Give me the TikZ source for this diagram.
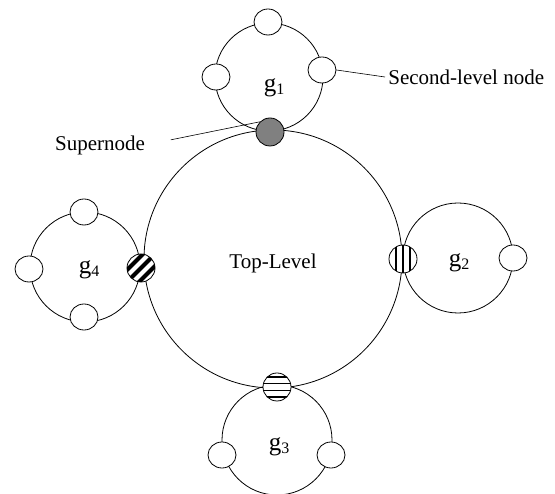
\documentclass[tikz,border=0pt]{standalone}
\usepackage{fontspec}
\setmainfont{Liberation Serif}
\usetikzlibrary{shapes.geometric}
\newcommand{\grp}[1]{g\raisebox{-3bp}{\fontsize{16bp}{18bp}\selectfont #1}}
\begin{document}
\begin{tikzpicture}[x=1bp,y=1bp, line width=0.8bp,
  ring/.style={circle, draw, inner sep=0pt},
  member/.style={ellipse, draw, fill=white, minimum width=28bp, minimum height=26bp, inner sep=0pt},
  super/.style={circle, draw, fill=white, minimum size=28bp, inner sep=0pt},
  superfill/.style={super, fill=black!50},
  vstripes/.style={super, path picture={
      \foreach \d in {-7,0,7}
        \draw[line width=2.6bp] ([xshift=\d bp]path picture bounding box.north) -- ([xshift=\d bp]path picture bounding box.south);}},
  hstripes/.style={super, path picture={
      \foreach \d in {-10,-3.5,3.5,10}
        \draw[line width=1.8bp] ([yshift=\d bp]path picture bounding box.west) -- ([yshift=\d bp]path picture bounding box.east);}},
  dstripes/.style={super, path picture={
      \foreach \d in {-8.5,0,8.5}
        \draw[line width=4bp]
          ([shift={({-14.14-\d*0.7071},{-14.14+\d*0.7071})}]path picture bounding box.center) --
          ([shift={({14.14-\d*0.7071},{14.14+\d*0.7071})}]path picture bounding box.center);}},
  lbl/.style={font=\fontsize{21bp}{25bp}\selectfont, inner sep=0pt},
  glbl/.style={font=\fontsize{25bp}{27bp}\selectfont, inner sep=0pt}]

\useasboundingbox (0,0) rectangle (555,494);

% rings
\node[ring, minimum size=108bp] (g1) at (269,417) {};
\node[ring, minimum size=110bp] (g2) at (458,236) {};
\node[ring, minimum size=110bp] (g3) at (277,54) {};
\node[ring, minimum size=110bp] (g4) at (85,227) {};
\node[ring, minimum size=258bp] (top) at (273,235) {};

% labels
\node[lbl] (toplbl) at (273,231) {Top-Level};
\node[glbl] (g1lbl) at (274,406) {\grp{1}};
\node[glbl] (g2lbl) at (459,231) {\grp{2}};
\node[glbl] (g3lbl) at (279,47) {\grp{3}};
\node[glbl] (g4lbl) at (89,224) {\grp{4}};

% second-level nodes
\node[member] (m1t) at (268,472) {};
\node[member] (m1l) at (216,417) {};
\node[member] (m1r) at (322,424) {};
\node[member] (m2r) at (513,236) {};
\node[member] (m3l) at (222,39) {};
\node[member] (m3r) at (331,39) {};
\node[member] (m4t) at (84,282) {};
\node[member] (m4l) at (29,225) {};
\node[member] (m4b) at (84,177) {};

% supernodes
\node[superfill] (s1) at (270,362) {};
\node[vstripes] (s2) at (403,235) {};
\node[hstripes] (s3) at (277,107) {};
\node[dstripes] (s4) at (141,226) {};

% annotations
\node[lbl, anchor=west] (sl) at (388,417) {Second-level node};
\node[lbl] (sn) at (100,349) {Supernode};
\draw[line width=0.6bp] (m1r.east) -- ([xshift=-3bp]sl.west);
\draw[line width=0.6bp, shorten <=26bp] (sn.east) -- (s1.north west);
\end{tikzpicture}
\end{document}
